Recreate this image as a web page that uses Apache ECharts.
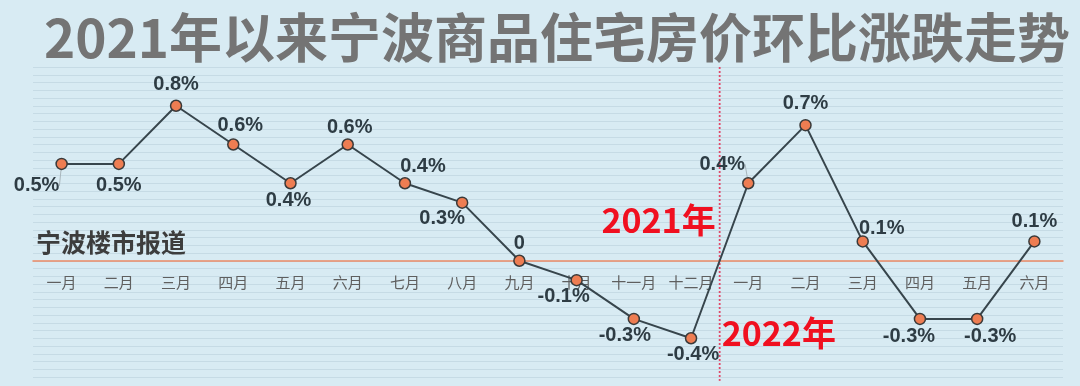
<!DOCTYPE html>
<html>
<head>
<meta charset="utf-8">
<script src="https://cdn.jsdelivr.net/npm/echarts@6/dist/echarts.min.js"></script>
<style>
html,body{margin:0;padding:0;background:#d8ebf3;}
#c{width:1080px;height:386px;}
</style>
</head>
<body>
<div id="c"></div>
<script>
const titleText = '2021年以来宁波商品住宅房价环比涨跌走势';
const sourceText = '宁波楼市报道';
const year1Text = '2021年';
const year2Text = '2022年';
const categories = ['一月','二月','三月','四月','五月','六月','七月','八月','九月','十月','十一月','十二月','一月','二月','三月','四月','五月','六月'];
const values = [0.5,0.5,0.8,0.6,0.4,0.6,0.4,0.3,0,-0.1,-0.3,-0.4,0.4,0.7,0.1,-0.3,-0.3,0.1];
const labelOffsets = [[-25,22],[0,22],[0,-21],[7,-19],[-2,17],[2,-17],[18,-17],[-20,16],[0,-17],[-13,16],[-9,17],[2,16],[-26,-19],[0,-22],[19,-13],[-11,18],[13,18],[0,-20]];
const leaderLines = [0, 12];

const chart = echarts.init(document.getElementById('c'));
const seriesData = values.map((v, i) => ({
  value: v,
  label: { position: 'inside', offset: labelOffsets[i] },
  labelLine: { show: leaderLines.indexOf(i) >= 0 }
}));

chart.setOption({
  backgroundColor: '#d8ebf3',
  animation: false,
  grid: { left: 33, right: 17, top: 67, bottom: 9, containLabel: false, outerBoundsMode: 'none' },
  xAxis: {
    type: 'category',
    data: categories,
    boundaryGap: true,
    position: 'bottom',
    axisLine: { onZero: false, lineStyle: { color: '#ec8a66', width: 1.5 } },
    axisTick: { show: false },
    axisLabel: { color: '#5f5f5f', fontSize: 15, margin: 14, fontFamily: 'Noto Sans CJK SC', interval: 0 },
    splitLine: { show: false },
    z: 1
  },
  yAxis: {
    type: 'value',
    min: -0.6,
    max: 1.0,
    interval: 0.04,
    axisLine: { show: false },
    axisTick: { show: false },
    axisLabel: { show: false },
    splitLine: { show: true, lineStyle: { color: '#c6dbe5', width: 1.2 } }
  },
  series: [{
    type: 'line',
    data: seriesData,
    symbol: 'circle',
    symbolSize: 11,
    lineStyle: { color: '#37454c', width: 2 },
    itemStyle: { color: '#ee7d52', borderColor: '#3a3a3a', borderWidth: 1.5 },
    label: {
      show: true,
      color: '#2e3c44',
      fontSize: 20,
      fontWeight: 'bold',
      fontFamily: 'Liberation Sans, Arial, sans-serif',
      formatter: p => (p.value === 0 ? '0' : p.value + '%')
    },
    labelLine: { lineStyle: { color: '#a9b6bc', width: 1 } },
    z: 5
  }]
});

// Positions derived from the axis scales
const xa = chart.convertToPixel({ xAxisIndex: 0 }, 11);
const xb = chart.convertToPixel({ xAxisIndex: 0 }, 12);
const xd = (xa + xb) / 2;
const yTop = chart.convertToPixel({ yAxisIndex: 0 }, 1.0);
const yMin = chart.convertToPixel({ yAxisIndex: 0 }, -0.6);
const yBot = chart.convertToPixel({ yAxisIndex: 0 }, -0.62);
const y0 = chart.convertToPixel({ yAxisIndex: 0 }, 0);

chart.setOption({
  xAxis: { offset: -(yMin - y0) },
  graphic: [
    {
      type: 'text', x: 557, y: 38,
      style: { text: titleText, fill: '#747474', font: 'bold 53px "Noto Sans CJK SC"', textAlign: 'center', textVerticalAlign: 'middle' }
    },
    {
      type: 'line', z: 3,
      shape: { x1: xd, y1: yTop, x2: xd, y2: yBot },
      style: { stroke: '#e04a6a', lineWidth: 1.8, lineDash: [2, 2] }
    },
    {
      type: 'text', z: 4,
      x: xd - 4, y: y0 - 41,
      style: { text: year1Text, fill: '#f01020', font: 'bold 34px "Noto Sans CJK SC"', textAlign: 'right', textVerticalAlign: 'middle' }
    },
    {
      type: 'text', z: 4,
      x: xd + 2, y: y0 + 72,
      style: { text: year2Text, fill: '#f01020', font: 'bold 34px "Noto Sans CJK SC"', textAlign: 'left', textVerticalAlign: 'middle' }
    },
    {
      type: 'text', z: 4,
      x: 36, y: y0 - 18,
      style: { text: sourceText, fill: '#3d3d3d', font: 'bold 25px "Noto Sans CJK SC"', textAlign: 'left', textVerticalAlign: 'middle' }
    }
  ]
});
</script>
</body>
</html>
